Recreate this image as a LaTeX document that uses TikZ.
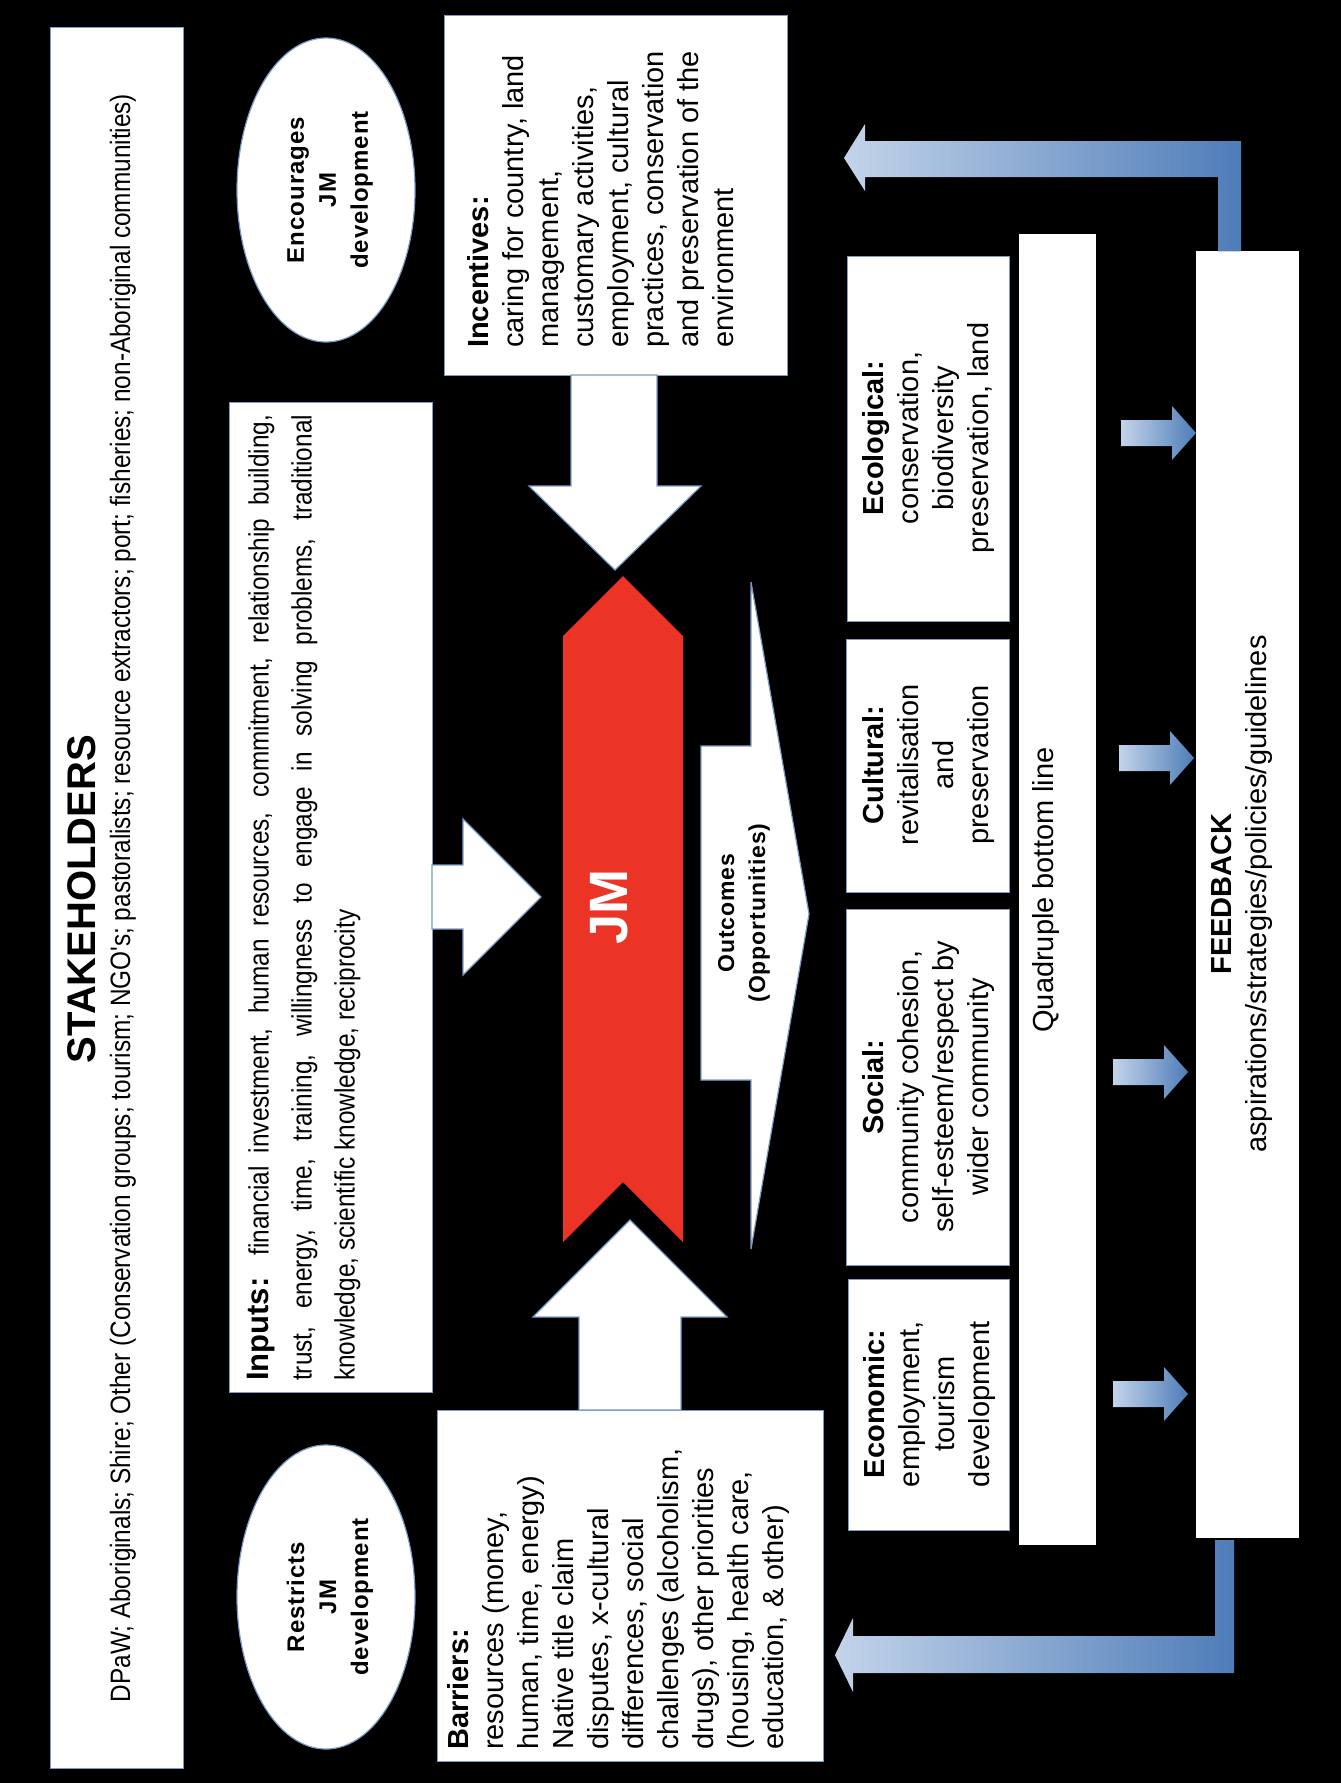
\documentclass[tikz,border=0pt]{standalone}
\usepackage{fontspec}
\setmainfont{Liberation Sans}
\newfontfamily\narrowf[FakeStretch=0.87]{Liberation Sans}
\newfontfamily\spacedf[LetterSpace=4]{Liberation Sans}
\usetikzlibrary{shapes.geometric}
\definecolor{jmred}{RGB}{236,52,38}
\definecolor{edgeblue}{RGB}{125,155,200}
\definecolor{blight}{RGB}{195,212,234}
\definecolor{bdark}{RGB}{78,124,184}
\tikzset{
 wbox/.style={rectangle, draw=edgeblue, line width=1.2pt, fill=white, inner sep=0pt, anchor=north west},
 pbox/.style={rectangle, fill=white, inner sep=0pt, anchor=north west},
 vtext/.style={rotate=90, inner sep=0pt, font=\fontsize{29}{35}\selectfont},
 ell/.style={ellipse, draw=edgeblue, line width=1.2pt, fill=white, inner sep=0pt},
 warrow/.style={fill=white, draw=edgeblue, line width=1.2pt, line join=miter},
 barrow/.style={left color=blight, right color=bdark},
}
\begin{document}
\begin{tikzpicture}[x=1pt,y=-1pt]
\useasboundingbox (0,0) rectangle (1341,1783);
\fill[black] (0,0) rectangle (1341,1783);

% Stakeholders
\node[wbox, minimum width=133pt, minimum height=1741pt] (stake) at (50,27) {};
\node[vtext, font=\bfseries\fontsize{40}{48}\selectfont] (staket) at (82,899) {STAKEHOLDERS};
\node[vtext, font=\narrowf\fontsize{28}{34}\selectfont] (staked) at (123,898) {DPaW; Aboriginals; Shire; Other (Conservation groups; tourism; NGO's; pastoralists; resource extractors; port; fisheries; non-Aboriginal communities)};

% Ellipses
\node[ell, minimum width=178pt, minimum height=304pt] (enc) at (326,190) {};
\node[vtext, align=center, font=\spacedf\bfseries\fontsize{24}{32}\selectfont] (enct) at (330,190) {Encourages\\JM\\development};
\node[ell, minimum width=178pt, minimum height=304pt] (res) at (326,1597) {};
\node[vtext, align=center, font=\spacedf\bfseries\fontsize{24}{32}\selectfont] (rest) at (330,1597) {Restricts\\JM\\development};

% Incentives
\node[wbox, minimum width=343pt, minimum height=360pt] (inc) at (444,15) {};
\node[vtext, anchor=north west, align=left] (inct) at (467,348) {\textbf{Incentives:}\\caring for country, land\\management,\\customary activities,\\employment, cultural\\practices, conservation\\and preservation of the\\environment};
\draw[warrow] (571,375) -- (657,375) -- (657,486) -- (701,486) -- (615,570) -- (529,486) -- (571,486) -- cycle;

% Inputs
\node[wbox, minimum width=203pt, minimum height=990pt] (inp) at (229,402) {};
\node[vtext, anchor=north west, text width=966pt, align=justify, font=\narrowf\fontsize{28}{43}\selectfont] (inpt) at (247,1381) {{\rmfamily\bfseries\fontsize{31}{43}\selectfont Inputs:} financial investment, human resources, commitment, relationship building,\linebreak trust, energy, time, training, willingness to engage in solving problems, traditional\linebreak knowledge, scientific knowledge, reciprocity};
\draw[warrow] (432,865) -- (463,865) -- (463,819) -- (541,897) -- (463,975) -- (463,929) -- (432,929) -- cycle;

% Barriers
\node[wbox, minimum width=386pt, minimum height=351pt] (bar) at (437,1410) {};
\node[vtext, anchor=north west, align=left] (bart) at (447,1750) {\textbf{Barriers:}\\resources (money,\\human, time, energy)\\Native title claim\\disputes, x-cultural\\differences, social\\challenges (alcoholism,\\drugs), other priorities\\(housing, health care,\\education, \& other)};
\draw[warrow] (579,1410) -- (579,1317) -- (533,1317) -- (630,1220) -- (727,1317) -- (681,1317) -- (681,1410) -- cycle;

% JM
\fill[jmred] (563,636) -- (623,576) -- (683,636) -- (683,1242) -- (623,1182) -- (563,1242) -- cycle;
\node[vtext, text=white, font=\bfseries\fontsize{54}{60}\selectfont] (jm) at (609,907) {JM};

% Outcomes
\draw[warrow] (701,746) -- (751,746) -- (751,582) -- (809,914) -- (751,1249) -- (751,1080) -- (701,1080) -- cycle;
\node[vtext, align=center, font=\spacedf\bfseries\fontsize{23}{31}\selectfont] (outt) at (744,913) {Outcomes\\(Opportunities)};

% Outcome boxes
\node[wbox, minimum width=162pt, minimum height=365pt] (eco) at (847,256) {};
\node[vtext, align=center] (ecot) at (928,438) {\textbf{Ecological:}\\conservation,\\biodiversity\\preservation, land};
\node[wbox, minimum width=163pt, minimum height=253pt] (cul) at (846,639) {};
\node[vtext, align=center] (cult) at (928,765) {\textbf{Cultural:}\\revitalisation\\and\\preservation};
\node[wbox, minimum width=163pt, minimum height=356pt] (soc) at (846,909) {};
\node[vtext, align=center] (soct) at (928,1087) {\textbf{Social:}\\community cohesion,\\self-esteem/respect by\\wider community};
\node[wbox, minimum width=161pt, minimum height=251pt] (econ) at (848,1279) {};
\node[vtext, align=center] (econt) at (929,1404) {\textbf{Economic:}\\employment,\\tourism\\development};

% Quadruple bottom line
\node[pbox, minimum width=77pt, minimum height=1311pt] (quad) at (1019,234) {};
\node[vtext] (quadt) at (1046,890) {Quadruple bottom line};

% Feedback
\node[pbox, minimum width=103pt, minimum height=1287pt] (fb) at (1196,251) {};
\node[vtext, align=center] (fbt) at (1242,894) {\textbf{FEEDBACK}\\aspirations/strategies/policies/guidelines};

% small blue arrows
\foreach \xx/\yy in {1121/433, 1119/758, 1113/1072, 1113/1394}{
  \fill[barrow] (\xx,\yy) ++(0,-13) -- ++(51,0) -- ++(0,-14) -- ++(24,27) -- ++(-24,27) -- ++(0,-14) -- ++(-51,0) -- cycle;
}

% feedback L-arrows
\fill[barrow] (1218,251) -- (1218,177) -- (865,177) -- (865,191) -- (844,158) -- (865,124) -- (865,141) -- (1241,141) -- (1241,251) -- cycle;
\fill[barrow] (1215,1540) -- (1215,1636) -- (853,1636) -- (853,1618) -- (835,1655) -- (853,1692) -- (853,1673) -- (1234,1673) -- (1234,1540) -- cycle;
\end{tikzpicture}
\end{document}
